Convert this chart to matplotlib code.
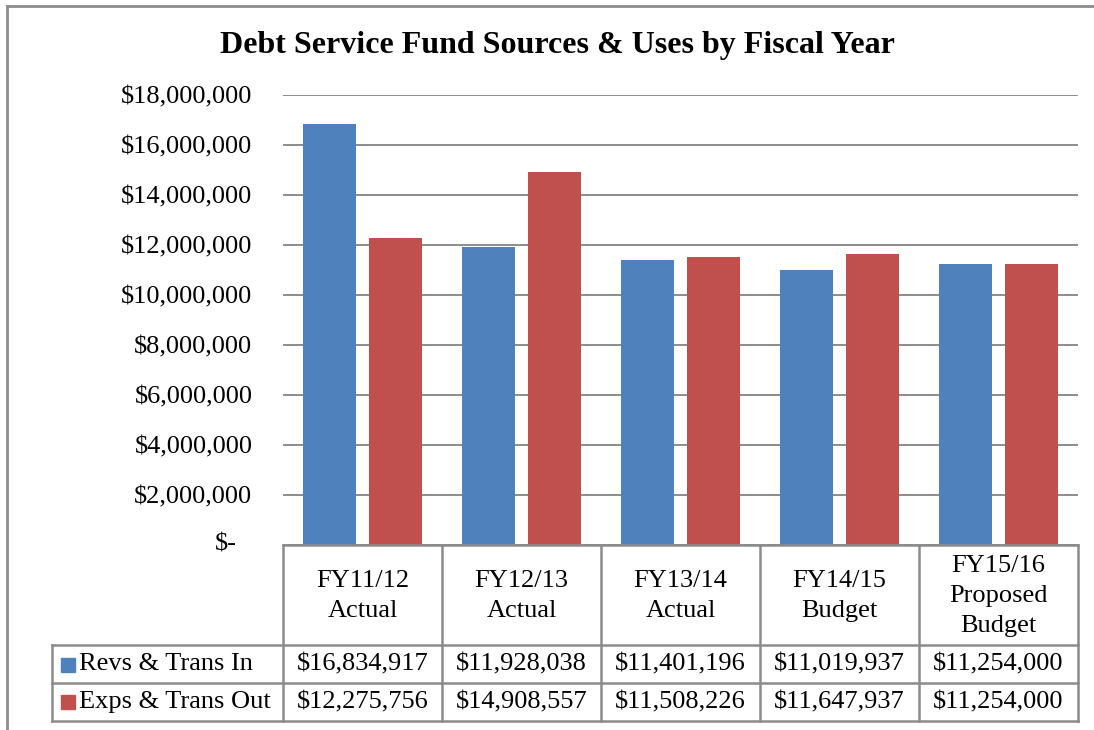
import matplotlib
matplotlib.use("Agg")
import matplotlib.pyplot as plt
import numpy as np
from matplotlib.lines import Line2D
from matplotlib.patches import Rectangle
import matplotlib.transforms as mtransforms

plt.rcParams['font.family'] = ['Liberation Serif', 'DejaVu Serif']

title = "Debt Service Fund Sources & Uses by Fiscal Year"
categories = ["FY11/12\nActual", "FY12/13\nActual", "FY13/14\nActual",
              "FY14/15\nBudget", "FY15/16\nProposed\nBudget"]
series_names = ["Revs & Trans In", "Exps & Trans Out"]
revs = [16834917, 11928038, 11401196, 11019937, 11254000]
exps = [12275756, 14908557, 11508226, 11647937, 11254000]
yticks = [0, 2e6, 4e6, 6e6, 8e6, 10e6, 12e6, 14e6, 16e6, 18e6]

BLUE = "#4F81BD"
RED = "#C0504D"
GRID = "#8C8C8C"

W, H = 1094, 730
fig = plt.figure(figsize=(W / 100, H / 100), dpi=100)

def px(x0, y0, x1, y1):
    return [x0 / W, 1 - y1 / H, (x1 - x0) / W, (y1 - y0) / H]

# plot area
pl, pt, pr, pb = 283, 95, 1078, 545
ax = fig.add_axes(px(pl, pt, pr, pb))
n = len(categories)
x = np.arange(n)
bw = 0.333
off = 0.208
ax.bar(x - off, revs, bw, color=BLUE, zorder=3)
ax.bar(x + off, exps, bw, color=RED, zorder=3)
ax.set_xlim(-0.5, n - 0.5)
ax.set_ylim(0, 18e6)
ax.set_yticks(yticks)
ax.set_yticklabels(["" if v == 0 else f"${v:,.0f}" for v in yticks], fontsize=19)
ax.tick_params(axis='y', length=0, pad=22)
ax.tick_params(axis='x', length=0, labelbottom=False)
ax.yaxis.grid(True, color=GRID, linewidth=1.4, zorder=0)
for s in ax.spines.values():
    s.set_visible(False)
ax.text(-0.5, 0, "$-", transform=mtransforms.offset_copy(ax.transData, fig=fig, x=-46, y=0, units='dots'),
        fontsize=19, ha='right', va='center')

# table
tl = 52
rows_y = [545, 645, 683, 721]
ytr = mtransforms.Affine2D().scale(1.0 / H).scale(1, -1).translate(0, 1) + fig.transFigure
bt = mtransforms.blended_transform_factory(ax.transData, ytr)
ptr = mtransforms.Affine2D().scale(1.0 / W, -1.0 / H).translate(0, 1) + fig.transFigure

lw = 1.8
fig.add_artist(Line2D([pl, pr], [545, 545], transform=ptr, color=GRID, lw=lw))
for yy in rows_y[1:]:
    fig.add_artist(Line2D([tl, pr], [yy, yy], transform=ptr, color=GRID, lw=lw))
fig.add_artist(Line2D([tl, tl], [645, 721], transform=ptr, color=GRID, lw=lw))
for k in range(n + 1):
    fig.add_artist(Line2D([k - 0.5, k - 0.5], [545, 721], transform=bt, color=GRID, lw=lw))

for i, c in enumerate(categories):
    fig.text(i, 596, c, transform=bt, ha='center', va='center', fontsize=19,
             linespacing=1.45)
    fig.text(i, 664, f"${revs[i]:,.0f}", transform=bt, ha='center', va='center', fontsize=19)
    fig.text(i, 702, f"${exps[i]:,.0f}", transform=bt, ha='center', va='center', fontsize=19)

for j, (name, col) in enumerate(zip(series_names, [BLUE, RED])):
    yc = [664.5, 702][j]
    fig.add_artist(Rectangle((61, yc - 7), 14, 14, transform=ptr, color=col))
    fig.text(79, yc, name, transform=ptr, ha='left', va='center', fontsize=19)

# title
fig.text(557, 45, title, transform=ptr, ha='center', va='center',
         fontsize=23, fontweight='bold')

# outer border (top and left visible)
fig.add_artist(Line2D([7, W], [6, 6], transform=ptr, color=GRID, lw=2))
fig.add_artist(Line2D([7, 7], [6, H], transform=ptr, color=GRID, lw=2))

fig.savefig("out.png", dpi=100)
